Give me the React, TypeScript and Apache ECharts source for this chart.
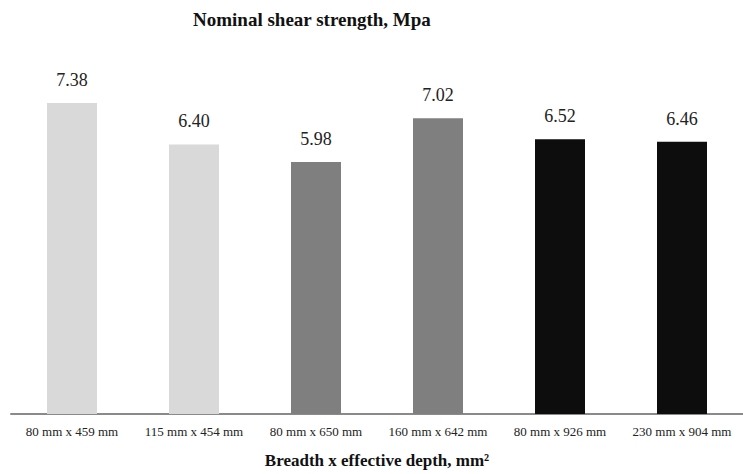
import React, { useEffect, useRef } from "react";
import * as echarts from "echarts";

const categories = [
  "80 mm x 459 mm",
  "115 mm x 454 mm",
  "80 mm x 650 mm",
  "160 mm x 642 mm",
  "80 mm x 926 mm",
  "230 mm x 904 mm",
];
const values = [7.38, 6.4, 5.98, 7.02, 6.52, 6.46];
const barColors = ["#d9d9d9", "#d9d9d9", "#7f7f7f", "#7f7f7f", "#0d0d0d", "#0d0d0d"];
const titleText = "Nominal shear strength, Mpa";
const xAxisName = "Breadth x effective depth, mm²";

const SERIF = '"Liberation Serif", "Times New Roman", serif';

export default function App() {
  const ref = useRef<HTMLDivElement>(null);
  useEffect(() => {
    if (!ref.current) return;
    const chart = echarts.init(ref.current, null, { renderer: "svg" });
    chart.setOption({
      animation: false,
      backgroundColor: "#ffffff",
      title: {
        text: titleText,
        left: 188,
        top: 5,
        textStyle: { fontFamily: SERIF, fontSize: 19, fontWeight: "bold", color: "#111" },
      },
      grid: { left: 11, width: 742, top: 77, bottom: 58, containLabel: false },
      xAxis: {
        type: "category",
        data: categories,
        axisLine: { lineStyle: { color: "#8a8a8a", width: 2 } },
        axisTick: { show: false },
        axisLabel: { fontFamily: SERIF, fontSize: 13, color: "#222", margin: 11, interval: 0 },
        name: xAxisName,
        nameLocation: "middle",
        nameGap: 38,
        nameTextStyle: { fontFamily: SERIF, fontSize: 17, fontWeight: "bold", color: "#111" },
      },
      yAxis: {
        type: "value",
        min: 0,
        max: 8,
        show: false,
        splitLine: { show: false },
      },
      series: [
        {
          type: "bar",
          barWidth: 50,
          data: values.map((v, i) => ({ value: v, itemStyle: { color: barColors[i] } })),
          label: {
            show: true,
            position: "top",
            distance: 14,
            formatter: (p: any) => Number(p.value).toFixed(2),
            fontFamily: SERIF,
            fontSize: 18,
            color: "#222",
          },
        },
      ],
    });
    return () => chart.dispose();
  }, []);
  return (
    <div
      ref={ref}
      style={{ position: "fixed", left: 0, top: 0, width: 743, height: 474, overflow: "hidden" }}
    />
  );
}
